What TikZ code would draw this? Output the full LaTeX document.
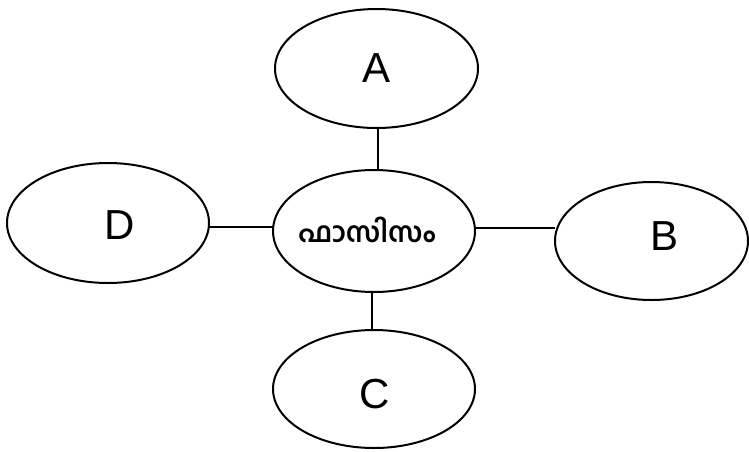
\documentclass[tikz,border=0pt]{standalone}
\usepackage{fontspec}
\setmainfont{Liberation Sans}
\newfontfamily\mlfont[Script=Malayalam]{Hind Kochi}
\usetikzlibrary{shapes.geometric}
\begin{document}
\begin{tikzpicture}[x=1pt,y=-1pt,
  oval/.style={ellipse,draw,line width=2pt,inner sep=0pt,outer sep=0pt},
  link/.style={line width=2pt},
  lbl/.style={font=\fontsize{42}{48}\selectfont}]
\useasboundingbox (0,0) rectangle (749,451);
\node[oval,minimum width=203pt,minimum height=119pt] (A) at (376.5,68.5) {};
\node[lbl] at (377,68) {A};
\node[oval,minimum width=202pt,minimum height=122pt] (M) at (374,231) {};
\node[font=\mlfont\bfseries\fontsize{28}{32}\selectfont] (t) at (367,230) {ഫാസിസം};
\node[oval,minimum width=202pt,minimum height=120pt] (D) at (108,223) {};
\node[lbl] at (120,225) {D};
\node[oval,minimum width=193pt,minimum height=118pt] (B) at (651.5,241) {};
\node[lbl] at (664,236) {B};
\node[oval,minimum width=202pt,minimum height=118pt] (C) at (374,389) {};
\node[lbl] at (375,394) {C};
\draw[link] ([xshift=1.5pt]A.south) -- ([xshift=1.5pt]A.south |- M.north);
\draw[link] ([xshift=-2pt]M.south) -- ([xshift=-2pt]M.south |- C.north);
\draw[link] ([yshift=-4pt]D.east) -- ([yshift=-4pt]D.east -| M.west);
\draw[link] ([yshift=3pt]M.east) -- ([yshift=3pt]M.east -| B.west);
\end{tikzpicture}
\end{document}
